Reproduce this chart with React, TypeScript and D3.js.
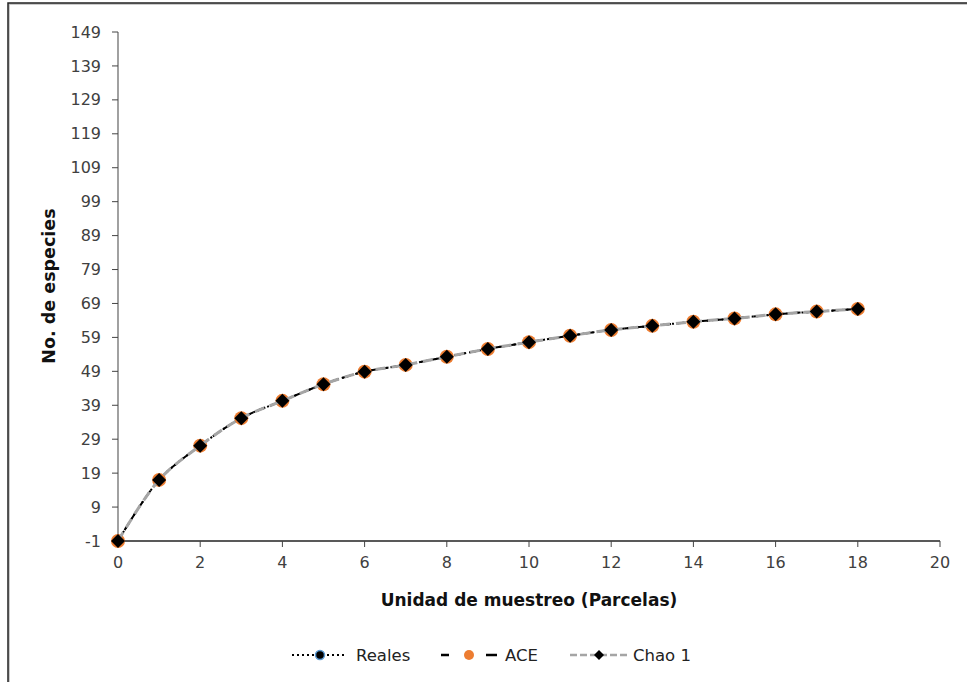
import React from 'react';
import * as d3 from 'd3';

const parcelas = [0, 1, 2, 3, 4, 5, 6, 7, 8, 9, 10, 11, 12, 13, 14, 15, 16, 17, 18];
const reales = [-1, 17, 27.1, 35.2, 40.3, 45.2, 48.9, 50.9, 53.3, 55.6, 57.6, 59.5, 61.2, 62.4, 63.6, 64.6, 65.8, 66.6, 67.4];
const ace = [-1, 17, 27.1, 35.2, 40.3, 45.2, 48.9, 50.9, 53.3, 55.6, 57.6, 59.5, 61.2, 62.4, 63.6, 64.6, 65.8, 66.6, 67.4];
const chao1 = [-1, 17, 27.1, 35.2, 40.3, 45.2, 48.9, 50.9, 53.3, 55.6, 57.6, 59.5, 61.2, 62.4, 63.6, 64.6, 65.8, 66.6, 67.4];
const yTicks = [-1, 9, 19, 29, 39, 49, 59, 69, 79, 89, 99, 109, 119, 129, 139, 149];
const xTicks = [0, 2, 4, 6, 8, 10, 12, 14, 16, 18, 20];

const FONT = "'DejaVu Sans', sans-serif";

export default function App() {
  const width = 967;
  const height = 682;
  const x = d3.scaleLinear().domain([0, 20]).range([118, 940]);
  const y = d3.scaleLinear().domain([-1, 149]).range([541, 32]);

  const line = d3.line<number>()
    .x((d, i) => x(parcelas[i]))
    .y(d => y(d))
    .curve(d3.curveCatmullRom);

  const diamond = (cx: number, cy: number, r: number) =>
    `M${cx},${cy - r}L${cx + r},${cy}L${cx},${cy + r}L${cx - r},${cy}Z`;

  return (
    <svg width={width} height={height} style={{ position: 'absolute', left: 0, top: 0 }}>
      <rect x={0} y={0} width={width} height={height} fill="#fff" />
      <rect x={9} y={4} width={980} height={700} fill="none" stroke="#bbb" strokeWidth={1.5} />
      <rect x={8} y={3} width={980} height={700} fill="none" stroke="#222" strokeWidth={1.5} />

      {/* axes */}
      <line x1={x(0)} x2={x(0)} y1={y(149)} y2={y(-1)} stroke="#6e6e6e" strokeWidth={1.3} />
      <line x1={x(0)} x2={x(20)} y1={y(-1)} y2={y(-1)} stroke="#222" strokeWidth={1.3} />
      {yTicks.map(t => (
        <g key={'y' + t}>
          <line x1={x(0) - 6} x2={x(0)} y1={y(t)} y2={y(t)} stroke="#444" strokeWidth={1} />
          <text x={x(0) - 17} y={y(t)} dy="0.35em" textAnchor="end" fontFamily={FONT}
            fontSize={16} fill="#404040">{t}</text>
        </g>
      ))}
      {xTicks.map(t => (
        <g key={'x' + t}>
          <line x1={x(t)} x2={x(t)} y1={y(-1)} y2={y(-1) + 6} stroke="#444" strokeWidth={1} />
          <text x={x(t)} y={y(-1) + 27} textAnchor="middle" fontFamily={FONT}
            fontSize={16} fill="#404040">{t}</text>
        </g>
      ))}
      <text x={529} y={606} textAnchor="middle" fontFamily={FONT} fontWeight="bold"
        fontSize={17} fill="#111">Unidad de muestreo (Parcelas)</text>
      <text transform="translate(55,286) rotate(-90)" textAnchor="middle" fontFamily={FONT}
        fontWeight="bold" fontSize={17.5} fill="#111">No. de especies</text>

      {/* Reales */}
      <path d={line(reales) || ''} fill="none" stroke="#000" strokeWidth={2} strokeDasharray="2,3" />
      {reales.map((v, i) => (
        <circle key={'r' + i} cx={x(parcelas[i])} cy={y(v)} r={4.5} fill="#000" stroke="#5b9bd5" strokeWidth={1.5} />
      ))}
      {/* ACE */}
      <path d={line(ace) || ''} fill="none" stroke="#000" strokeWidth={2} strokeDasharray="8,5" />
      {ace.map((v, i) => (
        <circle key={'a' + i} cx={x(parcelas[i])} cy={y(v)} r={7} fill="#ed7d31" />
      ))}
      {/* Chao 1 */}
      <path d={line(chao1) || ''} fill="none" stroke="#a5a5a5" strokeWidth={3} strokeDasharray="10,6" />
      {chao1.map((v, i) => (
        <path key={'c' + i} d={diamond(x(parcelas[i]), y(v), 7)} fill="#000" />
      ))}

      {/* legend */}
      <g fontFamily={FONT} fontSize={16.5} fill="#222">
        <line x1={292} x2={345} y1={655} y2={655} stroke="#000" strokeWidth={2} strokeDasharray="2,3" />
        <circle cx={320} cy={655} r={4.5} fill="#000" stroke="#5b9bd5" strokeWidth={1.5} />
        <text x={356} y={655} dy="0.35em">Reales</text>

        <line x1={441} x2={449} y1={655} y2={655} stroke="#000" strokeWidth={2.5} />
        <line x1={486} x2={497} y1={655} y2={655} stroke="#000" strokeWidth={2.5} />
        <circle cx={469} cy={655} r={5} fill="#ed7d31" />
        <text x={505} y={655} dy="0.35em">ACE</text>

        <line x1={570} x2={629} y1={655} y2={655} stroke="#a5a5a5" strokeWidth={2.5} strokeDasharray="7,3" />
        <path d={diamond(599, 655, 5)} fill="#000" />
        <text x={633} y={655} dy="0.35em">Chao 1</text>
      </g>
    </svg>
  );
}
